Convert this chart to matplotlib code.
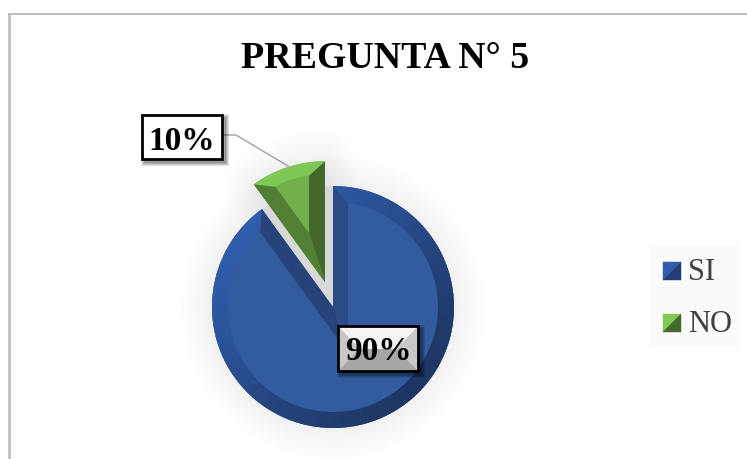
import matplotlib
matplotlib.use('Agg')
import matplotlib.pyplot as plt
from matplotlib.patches import Wedge, Polygon, Rectangle
import numpy as np

title = 'PREGUNTA N° 5'
categories = ['SI', 'NO']
values = [90, 10]
label_text = ['90%', '10%']

# edge1 / edge2 follow the wedge angles theta1 / theta2
blue = {'inner': '#335c9f', 'edge1': '#274379', 'edge2': '#2a4c86',
        'light': '#2f5dab', 'dark': '#1e3663', 'mark': '#213f74'}
green = {'inner': '#71b04b', 'edge1': '#44682c', 'edge2': '#527f33',
         'light': '#7fc854', 'dark': '#78bc50', 'mark': '#44682c'}
styles = [blue, green]
ring = [16, 13]
side = [15, 16]

plt.rcParams['font.family'] = ['Liberation Serif', 'DejaVu Serif']

fig = plt.figure(figsize=(7.47, 4.59), dpi=100)
ax = fig.add_axes([0, 0, 1, 1])

# pixel style axes, y measured from the bottom
H = 459


def py(y):
    return H - y


wedges, _ = ax.pie(values, startangle=90, counterclock=False, radius=121,
                   center=(333, py(307)), explode=[0, 26],
                   colors=[blue['inner'], green['inner']], frame=True)
ax.set_xlim(0, 747)
ax.set_ylim(0, H)
ax.set_aspect('equal')
ax.axis('off')


def mix(a, b, t):
    a = np.array(matplotlib.colors.to_rgb(a))
    b = np.array(matplotlib.colors.to_rgb(b))
    return tuple(a + (b - a) * t)


def bevel(w, st, band, sw):
    c = np.array(w.center)
    r = w.r
    t1, t2 = w.theta1, w.theta2
    # arc facet, lit from the upper left
    for a in np.arange(t1, t2, 2.0):
        s = (np.cos(np.radians(a + 1 - 135)) + 1) / 2
        ax.add_patch(Wedge(c, r, a, min(a + 2.4, t2), width=band, lw=0,
                           fc=mix(st['dark'], st['light'], s), zorder=3))
    # radial facets, mitred at the inner apex
    half = np.radians((t2 - t1) / 2)
    mid = np.radians((t1 + t2) / 2)
    apex = c + np.array([np.cos(mid), np.sin(mid)]) * sw / np.sin(half)
    u1 = np.array([np.cos(np.radians(t1)), np.sin(np.radians(t1))])
    u2 = np.array([np.cos(np.radians(t2)), np.sin(np.radians(t2))])
    n1 = np.array([-u1[1], u1[0]])
    n2 = np.array([u2[1], -u2[0]])
    d = (r - band) * 0.985
    ax.add_patch(Polygon([c, c + u1 * r, c + u1 * d + n1 * sw, apex],
                         fc=st['edge1'], lw=0, zorder=4))
    ax.add_patch(Polygon([c, c + u2 * r, c + u2 * d + n2 * sw, apex],
                         fc=st['edge2'], lw=0, zorder=4))


# soft shadow behind the slices
for w in wedges:
    for k in range(1, 15):
        ax.add_patch(Wedge(w.center, w.r, w.theta1, w.theta2, fc='none',
                           ec='black', lw=k * 3.2, alpha=0.005, zorder=1,
                           joinstyle='round'))
    w.set_zorder(2)

# grey gap left where the small slice was pulled out
ax.add_patch(Wedge(wedges[0].center, wedges[0].r, wedges[1].theta1, wedges[1].theta2,
                   fc='#d8d8d8', lw=0, zorder=1))

for w, st, band, sw in zip(wedges, styles, ring, side):
    bevel(w, st, band, sw)

# frame of the chart area
ax.add_patch(Rectangle((8, -5), 2.5, py(12.5) + 5, fc='#c4c4c4', lw=0, zorder=0))
ax.add_patch(Rectangle((8, py(15)), 747, 2.5, fc='#bdbdbd', lw=0, zorder=0))

ax.text(385, py(59), title, ha='center', va='center', fontsize=27.3,
        fontweight='bold', color='black', zorder=9)

# 10% label and leader
ax.plot([223, 236, 288], [py(135), py(135), py(166)], color='#a0a0a0', lw=1, zorder=5)
x0, x1, y0, y1 = 142, 222, 115, 159
for k in range(1, 8):
    ax.add_patch(Rectangle((x0 + 3, py(y1 + 3)), x1 - x0, y1 - y0, fc='none',
                           ec='black', lw=k * 0.8, alpha=0.07, zorder=5))
ax.add_patch(Rectangle((x0, py(y1)), x1 - x0, y1 - y0, fc='white', ec='black',
                       lw=2, zorder=6))
ax.text((x0 + x1) / 2, py(141), label_text[1], ha='center', va='center',
        fontsize=24, fontweight='bold', color='black', zorder=9)

# 90% label with the bevelled fill
x0, x1, y0, y1 = 338, 418, 326, 371
ym = 349
for k in range(1, 8):
    ax.add_patch(Rectangle((x0 + 3, py(y1 + 3)), x1 - x0, y1 - y0, fc='none',
                           ec='black', lw=k * 0.8, alpha=0.07, zorder=5))
ax.add_patch(Rectangle((x0, py(y1)), x1 - x0, y1 - y0, fc='#c8c8c8', lw=0, zorder=6))
ax.add_patch(Polygon([(x0, py(y0)), (x1, py(y0)), (x1 - 22, py(ym)), (x0 + 22, py(ym))],
                     fc='#f4f4f4', lw=0, zorder=6))
ax.add_patch(Polygon([(x0, py(y1)), (x1, py(y1)), (x1 - 22, py(ym)), (x0 + 22, py(ym))],
                     fc='#a6a6a6', lw=0, zorder=6))
ax.add_patch(Rectangle((x0, py(y1)), x1 - x0, y1 - y0, fc='none', ec='black',
                       lw=2, zorder=7))
ax.text((x0 + x1) / 2, py(351), label_text[0], ha='center', va='center',
        fontsize=24, fontweight='bold', color='black', zorder=9)

# legend
ax.add_patch(Rectangle((650, py(347)), 90, 102, fc='#fafafa', lw=0, zorder=0))
for name, st, ytop in zip(categories, styles, [262, 314]):
    a, b, s = 663, ytop, 18
    ax.add_patch(Polygon([(a, py(b)), (a + s, py(b)), (a, py(b + s))],
                         fc=st['light'], ec=st['light'], lw=0.3, zorder=3))
    ax.add_patch(Polygon([(a + s, py(b)), (a + s, py(b + s)), (a, py(b + s))],
                         fc=st['mark'], ec=st['mark'], lw=0.3, zorder=3))
    ax.text(688, py(b + s / 2 + 2), name, ha='left', va='center', fontsize=22,
            color='#404040', zorder=9)

fig.savefig('out.png', dpi=100)
